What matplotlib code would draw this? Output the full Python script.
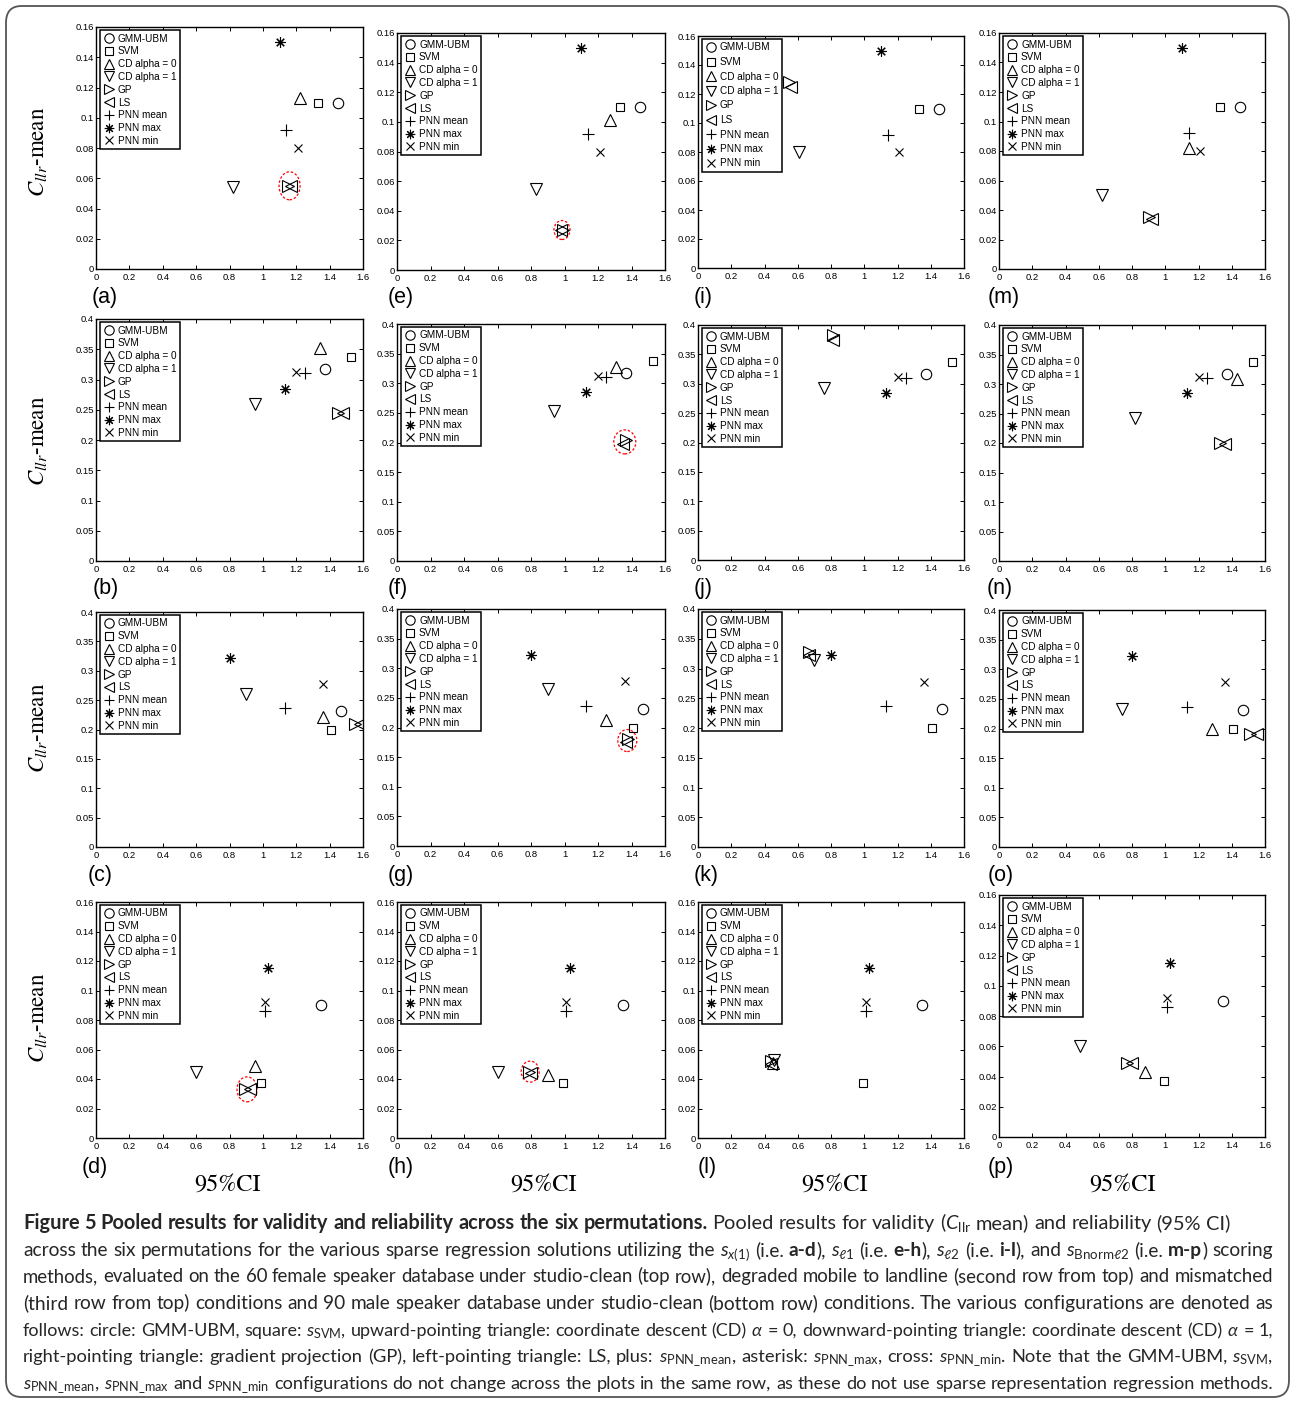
import matplotlib
matplotlib.use("Agg")
import matplotlib.pyplot as plt
from matplotlib.patches import Ellipse, FancyBboxPatch

W, H, DPI = 1293, 1402, 100

plt.rcParams['mathtext.fontset'] = 'custom'
plt.rcParams['mathtext.rm'] = 'Lato'
plt.rcParams['mathtext.it'] = 'Lato:italic'
plt.rcParams['mathtext.bf'] = 'Lato:bold'
plt.rcParams['mathtext.sf'] = 'Lato'

# ---------------- data ----------------
panel_letters = ['a', 'b', 'c', 'd', 'e', 'f', 'g', 'h',
                 'i', 'j', 'k', 'l', 'm', 'n', 'o', 'p']   # column-major: col = method, row = condition
row_ymax = [0.16, 0.4, 0.4, 0.16]
x_ticks = [0, 0.2, 0.4, 0.6, 0.8, 1.0, 1.2, 1.4, 1.6]
x_tick_labels = ['0', '0.2', '0.4', '0.6', '0.8', '1', '1.2', '1.4', '1.6']
y_ticks_small = [0, 0.02, 0.04, 0.06, 0.08, 0.10, 0.12, 0.14, 0.16]
y_tick_labels_small = ['0', '0.02', '0.04', '0.06', '0.08', '0.1', '0.12', '0.14', '0.16']
y_ticks_large = [0, 0.05, 0.10, 0.15, 0.20, 0.25, 0.30, 0.35, 0.40]
y_tick_labels_large = ['0', '0.05', '0.1', '0.15', '0.2', '0.25', '0.3', '0.35', '0.4']

series_labels = ['GMM-UBM', 'SVM', 'CD alpha = 0', 'CD alpha = 1', 'GP', 'LS',
                 'PNN mean', 'PNN max', 'PNN min']

# values that are constant within a row (one per row)
gmm_x = [1.45, 1.37, 1.47, 1.35]
gmm_y = [0.110, 0.317, 0.232, 0.090]
svm_x = [1.33, 1.53, 1.41, 0.99]
svm_y = [0.110, 0.337, 0.200, 0.037]
pnn_mean_x = [1.14, 1.25, 1.13, 1.01]
pnn_mean_y = [0.092, 0.310, 0.237, 0.086]
pnn_max_x = [1.10, 1.13, 0.80, 1.03]
pnn_max_y = [0.150, 0.285, 0.322, 0.115]
pnn_min_x = [1.21, 1.20, 1.36, 1.01]
pnn_min_y = [0.080, 0.312, 0.278, 0.092]

# per panel values, order a..p
cd0_x = [1.22, 1.34, 1.36, 0.95, 1.27, 1.31, 1.25, 0.90,
         0.30, 0.30, 0.30, 0.45, 1.14, 1.43, 1.28, 0.88]
cd0_y = [0.113, 0.352, 0.222, 0.049, 0.101, 0.327, 0.213, 0.043,
         0.125, 0.300, 0.300, 0.051, 0.082, 0.308, 0.200, 0.043]
cd1_x = [0.82, 0.95, 0.90, 0.60, 0.83, 0.94, 0.90, 0.60,
         0.61, 0.76, 0.70, 0.46, 0.62, 0.82, 0.74, 0.49]
cd1_y = [0.054, 0.260, 0.260, 0.045, 0.055, 0.253, 0.265, 0.045,
         0.080, 0.293, 0.315, 0.053, 0.050, 0.242, 0.233, 0.060]
gp_x = [1.15, 1.45, 1.55, 0.89, 0.99, 1.37, 1.38, 0.79,
        0.55, 0.81, 0.67, 0.44, 0.90, 1.33, 1.51, 0.77]
gp_y = [0.055, 0.245, 0.210, 0.033, 0.027, 0.205, 0.180, 0.045,
        0.128, 0.383, 0.328, 0.052, 0.035, 0.200, 0.190, 0.049]
ls_x = [1.17, 1.48, 1.58, 0.92, 0.98, 1.35, 1.37, 0.80,
        0.56, 0.81, 0.67, 0.44, 0.92, 1.36, 1.55, 0.80]
ls_y = [0.055, 0.245, 0.210, 0.033, 0.027, 0.198, 0.175, 0.044,
        0.125, 0.375, 0.322, 0.050, 0.034, 0.198, 0.190, 0.049]

highlight_panels = ['a', 'd', 'e', 'f', 'g', 'h']
highlight_x = [1.16, 0.905, 0.985, 1.36, 1.375, 0.795]
highlight_y = [0.055, 0.033, 0.027, 0.201, 0.178, 0.045]

# ---------------- layout (pixels) ----------------
axes_px = {
    'a': (96, 27, 363, 269), 'b': (96, 319, 363, 561), 'c': (96, 612, 363, 847), 'd': (96, 902, 363, 1138),
    'e': (397, 33, 665, 270), 'f': (397, 324, 665, 561), 'g': (397, 609, 665, 846), 'h': (397, 902, 665, 1138),
    'i': (698, 36, 964, 268), 'j': (698, 325, 964, 560), 'k': (698, 609, 964, 847), 'l': (698, 902, 964, 1138),
    'm': (999, 33, 1265, 269), 'n': (999, 325, 1265, 561), 'o': (999, 610, 1265, 847), 'p': (999, 895, 1265, 1137),
}
letter_x = {'a': 92, 'b': 93, 'c': 88, 'd': 82, 'e': 388, 'f': 388, 'g': 388, 'h': 388,
            'i': 694, 'j': 694, 'k': 694, 'l': 698, 'm': 988, 'n': 987, 'o': 988, 'p': 988}
letter_y = [298, 589, 876, 1167]
ellipse_px = {'a': (21, 28), 'd': (20, 25), 'e': (16, 19), 'f': (22, 24), 'g': (19, 22), 'h': (18, 21)}
legend_spacing = {'i': 0.45}

markers = ['o', 's', '^', 'v', '>', '<', '+', (8, 2, 0), 'x']
msizes = [7.5, 6.0, 8.5, 8.5, 8.5, 8.5, 8.0, 7.5, 6.0]

fig = plt.figure(figsize=(W / DPI, H / DPI), dpi=DPI)
fig.patch.set_facecolor('white')

border = FancyBboxPatch((6 / W, 1 - 1397 / H), 1283 / W, 1391 / H,
                        boxstyle="round,pad=0,rounding_size=0.012",
                        transform=fig.transFigure, fill=False,
                        edgecolor='#555555', linewidth=1.3)
fig.patches.append(border)

tick_font = 'Liberation Sans'

for k, letter in enumerate(panel_letters):
    col, row = k // 4, k % 4
    l, t, r, b = axes_px[letter]
    ax = fig.add_axes([l / W, 1 - b / H, (r - l) / W, (b - t) / H])
    ymax = row_ymax[row]
    xs = [gmm_x[row], svm_x[row], cd0_x[k], cd1_x[k], gp_x[k], ls_x[k],
          pnn_mean_x[row], pnn_max_x[row], pnn_min_x[row]]
    ys = [gmm_y[row], svm_y[row], cd0_y[k], cd1_y[k], gp_y[k], ls_y[k],
          pnn_mean_y[row], pnn_max_y[row], pnn_min_y[row]]
    for sx, sy, lab, mk, ms in zip(xs, ys, series_labels, markers, msizes):
        ax.plot([sx], [sy], linestyle='none', marker=mk, markersize=ms,
                markerfacecolor='none', markeredgecolor='black',
                markeredgewidth=0.8, color='black', label=lab)
    if letter in highlight_panels:
        j = highlight_panels.index(letter)
        ew, eh = ellipse_px[letter]
        e = Ellipse((highlight_x[j], highlight_y[j]),
                    ew * 1.6 / (r - l), eh * ymax / (b - t),
                    fill=False, edgecolor='red', linestyle=(0, (2, 1.5)), linewidth=0.9)
        ax.add_patch(e)
    ax.set_xlim(0, 1.6)
    ax.set_ylim(0, ymax)
    ax.set_xticks(x_ticks)
    ax.set_xticklabels(x_tick_labels, fontfamily=tick_font, fontsize=6.8)
    if ymax < 0.2:
        ax.set_yticks(y_ticks_small)
        ax.set_yticklabels(y_tick_labels_small, fontfamily=tick_font, fontsize=6.8)
    else:
        ax.set_yticks(y_ticks_large)
        ax.set_yticklabels(y_tick_labels_large, fontfamily=tick_font, fontsize=6.8)
    ax.tick_params(direction='in', length=3, width=0.7, top=True, right=True)
    ax.tick_params(axis='x', pad=3)
    ax.tick_params(axis='y', pad=1.5)
    for s in ax.spines.values():
        s.set_linewidth(1.0)
    leg = ax.legend(loc='upper left', bbox_to_anchor=(4 / (r - l), 1 - 3 / (b - t)),
                    borderaxespad=0, prop={'family': tick_font, 'size': 7.2},
                    frameon=True, fancybox=False, framealpha=1, edgecolor='black',
                    handlelength=1.0, handletextpad=0.45, borderpad=0.35,
                    labelspacing=legend_spacing.get(letter, 0.28), markerscale=0.9)
    leg.get_frame().set_linewidth(1.1)
    leg.set_zorder(10)

    fig.text(letter_x[letter] / W, 1 - letter_y[row] / H, '(%s)' % letter,
             fontfamily=tick_font, fontsize=15.5, ha='left', va='center')

# y labels
for yc in [152, 441, 728, 1018]:
    fig.text(38 / W, 1 - yc / H, r'$C_{llr}$-mean', rotation=90, ha='center', va='center',
             fontfamily='STIXGeneral', math_fontfamily='stix', fontsize=16.5)
# x labels
for xc in [228, 544, 835, 1123]:
    fig.text(xc / W, 1 - 1185 / H, '95%CI', ha='center', va='center',
             fontfamily='STIXGeneral', fontsize=17.5)

# ---------------- caption ----------------
caption_lines = [
    r"**Figure 5 Pooled results for validity and reliability across the six permutations.** Pooled results for validity ($C_{\mathrm{llr}}$ mean) and reliability (95% CI)",
    r"across the six permutations for the various sparse regression solutions utilizing the $s_{x(1)}$ (i.e. **a-d**), $s_{\ell1}$ (i.e. **e-h**), $s_{\ell2}$ (i.e. **i-l**), and $s_{\mathrm{Bnorm}\ell2}$ (i.e. **m-p**) scoring",
    r"methods, evaluated on the 60 female speaker database under studio-clean (top row), degraded mobile to landline (second row from top) and mismatched",
    r"(third row from top) conditions and 90 male speaker database under studio-clean (bottom row) conditions. The various configurations are denoted as",
    r"follows: circle: GMM-UBM, square: $s_{\mathrm{SVM}}$, upward-pointing triangle: coordinate descent (CD) $\alpha$ = 0, downward-pointing triangle: coordinate descent (CD) $\alpha$ = 1,",
    r"right-pointing triangle: gradient projection (GP), left-pointing triangle: LS, plus: $s_{\mathrm{PNN\_mean}}$, asterisk: $s_{\mathrm{PNN\_max}}$, cross: $s_{\mathrm{PNN\_min}}$. Note that the GMM-UBM, $s_{\mathrm{SVM}}$,",
    r"$s_{\mathrm{PNN\_mean}}$, $s_{\mathrm{PNN\_max}}$ and $s_{\mathrm{PNN\_min}}$ configurations do not change across the plots in the same row, as these do not use sparse representation regression methods.",
]
baselines = [1229, 1256, 1282, 1309, 1336, 1362, 1389]
justify = [False, True, True, True, True, True, True]
X0, X1 = 23, 1273
LINE1_END = 1225

renderer = fig.canvas.get_renderer()
cap_font = 'Lato'
SPACE_EM = 0.24


def parse(line):
    words = []
    bold = False
    for w in line.split(' '):
        segs = []
        parts = w.split('**')
        for pi, p in enumerate(parts):
            if pi > 0:
                bold = not bold
            if p:
                segs.append((p, bold))
        words.append(segs)
    return words


def draw_line(line, yb, size, jus, draw):
    words = parse(line)
    texts, wws = [], []
    for segs in words:
        wt, ww = [], 0
        for txt, bold in segs:
            tobj = fig.text(0, 1 - yb / H, txt, fontfamily=cap_font, fontsize=size,
                            fontweight='bold' if bold else 'normal',
                            ha='left', va='baseline', color='#262626')
            wpx = tobj.get_window_extent(renderer).width
            wt.append((tobj, wpx))
            ww += wpx
        texts.append(wt)
        wws.append(ww)
    space = SPACE_EM * size * DPI / 72.0
    nat = sum(wws) + space * (len(wws) - 1)
    gap = (X1 - X0 - sum(wws)) / (len(wws) - 1) if jus else space
    x = X0
    for wt, ww in zip(texts, wws):
        xx = x
        for tobj, wpx in wt:
            if draw:
                tobj.set_x(xx / W)
            else:
                tobj.remove()
            xx += wpx
        x += ww + gap
    return nat


base = 12.0
nats = [draw_line(ln, yb, base, j, False) for ln, yb, j in zip(caption_lines, baselines, justify)]
size1 = base * (LINE1_END - X0) / nats[0]
for ln, yb, j, nat in zip(caption_lines, baselines, justify, nats):
    size = size1
    if j:
        size = min(size1, base * (X1 - X0) * 0.99 / nat)
    draw_line(ln, yb, size, j, True)

fig.savefig('out.png', dpi=DPI, facecolor='white')
